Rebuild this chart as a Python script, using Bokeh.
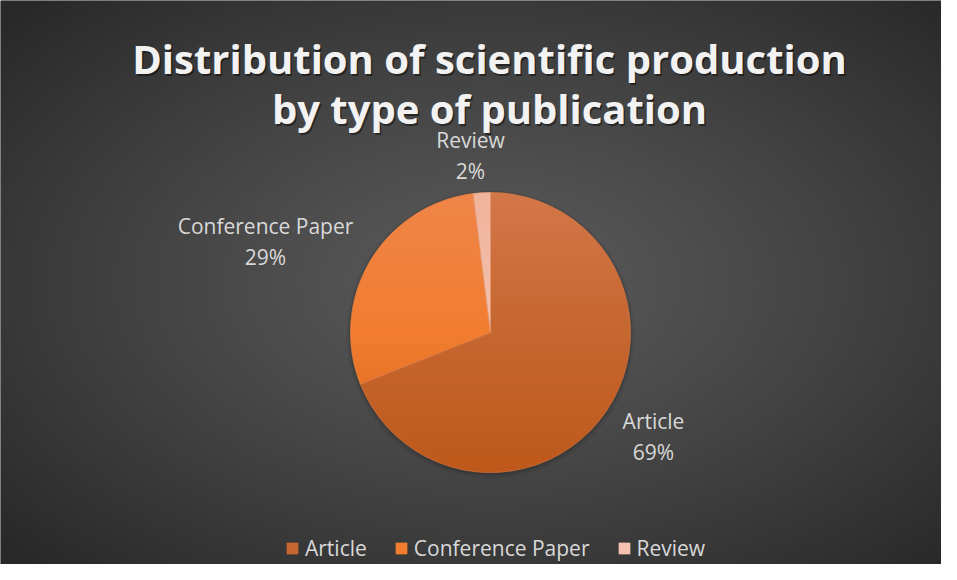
import numpy as np
from bokeh.plotting import figure
from bokeh.models import ColumnDataSource, Range1d, Legend, LegendItem
from bokeh.core.properties import value
from bokeh.embed import file_html
from bokeh.resources import INLINE

# ---- data ----
categories = ["Article", "Conference Paper", "Review"]
shares = [69, 29, 2]
pct_labels = ["69%", "29%", "2%"]
title_lines = ["Distribution of scientific production", "by type of publication"]

# ---- styling / layout ----
colors = ["#c66730", "#f27d30", "#f4c2ae"]
W, H = 941, 564
CX, CY, R = 490, H - 332, 140
# label centre offsets relative to pie centre (px, y up)
label_offsets = [(163, -104), (-225, 91), (-20, 177)]
TEXT_COL = "#d9d9d9"
FONT = "Open Sans"

p = figure(width=W, height=H, output_backend="svg", toolbar_location=None,
           x_range=Range1d(0, W), y_range=Range1d(0, H),
           x_axis_type=None, y_axis_type=None, min_border=0)
p.grid.visible = False
p.outline_line_color = None
p.background_fill_color = "#3a3a3a"
p.border_fill_color = "#3a3a3a"

# background radial gradient
gw, gh = W // 2, H // 2
yy, xx = np.mgrid[0:gh, 0:gw]
fx = (xx + 0.5) * W / gw
fy = (yy + 0.5) * H / gh
gcx, gcy = W * 0.52, H * 0.50
d = np.sqrt(((fx - gcx) / (W / 2)) ** 2 + ((fy - gcy) / (H / 2)) ** 2) / np.sqrt(2)
d = np.clip(d, 0, 1) ** 1.2
v = (0x5a - (0x5a - 0x28) * d).astype(np.uint32)
img = (255 << 24) | (v << 16) | (v << 8) | v
p.image_rgba(image=[img.astype(np.uint32)], x=0, y=0, dw=W, dh=H)

# pie shadow
p.circle(x=[CX], y=[CY - 2], radius=R + 4, fill_color="black", fill_alpha=0.06, line_color=None)
p.circle(x=[CX], y=[CY - 1], radius=R + 2, fill_color="black", fill_alpha=0.10, line_color=None)

# wedges
total = float(sum(shares))
cum = np.cumsum([0] + shares) / total
start = np.pi / 2 - cum[:-1] * 2 * np.pi
end = np.pi / 2 - cum[1:] * 2 * np.pi
src = ColumnDataSource(dict(cat=categories, start=start, end=end, color=colors))
wr = p.wedge(x=CX, y=CY, radius=R, start_angle="start", end_angle="end",
             direction="clock", fill_color="color", line_color="color",
             line_width=0.5, source=src)

# vertical shading overlay on the pie (warm light top, warm dark bottom)
n = 2 * R
oy, ox = np.mgrid[0:n, 0:n]
px_ = ox + 0.5 - R
py_ = oy + 0.5 - R
dist = np.sqrt(px_ ** 2 + py_ ** 2)
mask = np.clip(R - dist + 0.5, 0, 1)
t = (oy + 0.5) / n  # 0 bottom, 1 top
shade = (t - 0.5) * 2  # -1 bottom .. 1 top
top = shade >= 0
a = np.where(top, np.clip(shade, 0, 1) * 0.35, np.clip(-shade, 0, 1) * 0.45) * mask
rr = np.where(top, 235, 180).astype(np.uint32)
gg = np.where(top, 150, 70).astype(np.uint32)
bb = np.where(top, 120, 0).astype(np.uint32)
al = (a * 255).astype(np.uint32)
ov = (al << 24) | (bb << 16) | (gg << 8) | rr
p.image_rgba(image=[ov.astype(np.uint32)], x=CX - R, y=CY - R, dw=n, dh=n)

# thin separators
p.wedge(x=CX, y=CY, radius=R, start_angle=start, end_angle=end, direction="clock",
        fill_color=None, line_color="#e08a5a", line_alpha=0.5, line_width=0.6)

# data labels
lx = [CX + o[0] for o in label_offsets]
ly = [CY + o[1] for o in label_offsets]
p.text(x=lx, y=[y + 15.5 for y in ly], text=categories, text_align="center",
       text_baseline="middle", text_color=TEXT_COL, text_font=value(FONT),
       text_font_size="21px")
p.text(x=lx, y=[y - 15.5 for y in ly], text=pct_labels, text_align="center",
       text_baseline="middle", text_color=TEXT_COL, text_font=value(FONT),
       text_font_size="21px")

# title with shadow
tx = [489, 489]
ty = [H - 58, H - 108]
p.text(x=[x + 1.5 for x in tx], y=[y - 2 for y in ty], text=title_lines,
       text_align="center", text_baseline="middle", text_color="black",
       text_alpha=0.45, text_font=value(FONT), text_font_style="bold",
       text_font_size="40px")
p.text(x=tx, y=ty, text=title_lines, text_align="center", text_baseline="middle",
       text_color="#f2f2f2", text_font=value(FONT), text_font_style="bold",
       text_font_size="40px")

legend = Legend(items=[LegendItem(label=categories[i], renderers=[wr], index=i)
                       for i in range(len(categories))],
                orientation="horizontal", location=(285, 2),
                background_fill_alpha=0, border_line_color=None,
                label_text_color=TEXT_COL, label_text_font=FONT,
                label_text_font_size="21px", glyph_width=14, glyph_height=14,
                label_standoff=6, spacing=27, padding=0, margin=0,
                label_height=22)
p.add_layout(legend, "center")

open("out.html", "w").write(file_html(p, INLINE))
